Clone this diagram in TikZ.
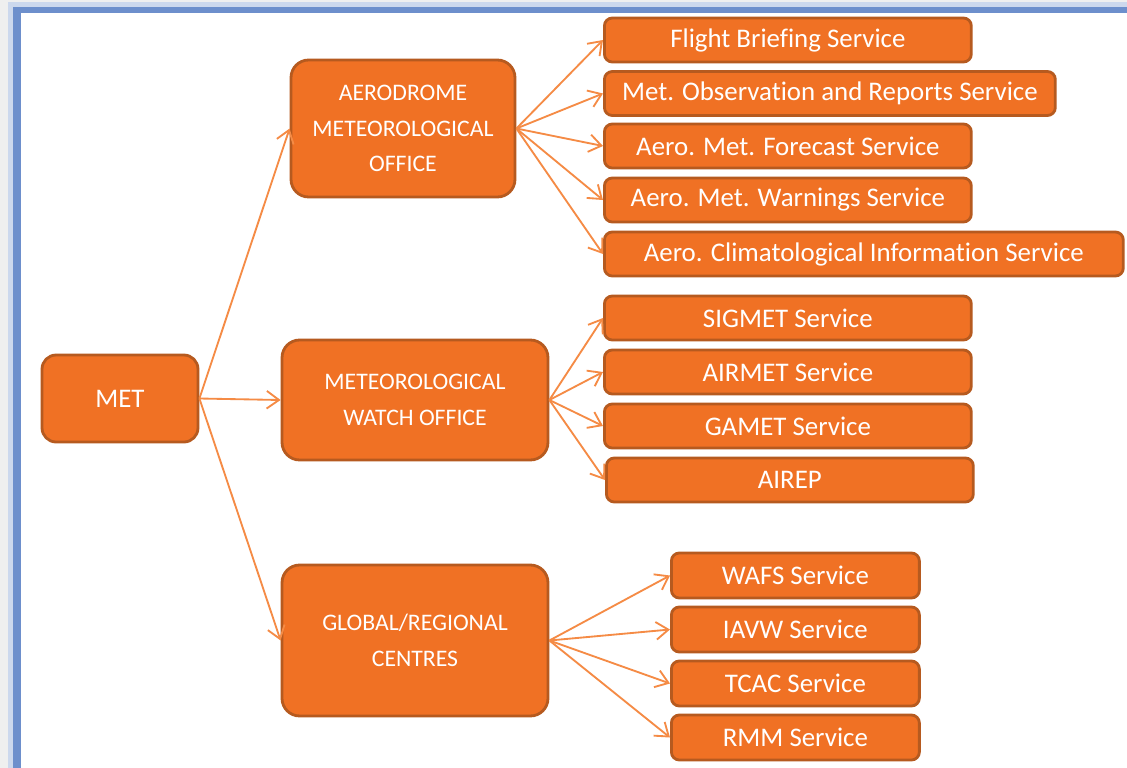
\documentclass[tikz,border=0pt]{standalone}
\usepackage{fontspec}
\setmainfont[Ligatures=NoCommon]{Carlito}
\usepackage{xcolor}
\usetikzlibrary{arrows.meta, positioning, calc}
\definecolor{MetOrange}{HTML}{F07124}
\definecolor{MetEdge}{HTML}{B65A1F}
\definecolor{ArrowOrange}{HTML}{F58B45}
\definecolor{FrameBlue}{HTML}{6D8FCC}
\definecolor{PageGray}{HTML}{EFEFEF}
\tikzset{
    unitbox/.style={rectangle, fill=MetOrange, draw=MetEdge, line width=1.6pt,
                    text=white, inner sep=0pt},
    officebox/.style={unitbox, rounded corners=10pt, align=center,
                      font=\fontsize{13.5}{20.4}\selectfont},
    servicebox/.style={unitbox, rounded corners=4.5pt, anchor=west,
                       minimum height=0.88cm, font=\fontsize{15.3}{18}\selectfont},
    feed/.style={-{Straight Barb[length=7pt,width=10pt]}, ArrowOrange, line width=1.05pt}
}

\begin{document}
\begin{tikzpicture}[x=0.02cm, y=-0.02cm]
    % page and frame
    \path[use as bounding box, clip] (0,0) rectangle (1127,768);
    \fill[PageGray] (0,0) rectangle (1127,768);
    \fill[FrameBlue!35] (8,2) rectangle (1140,780);
    \fill[FrameBlue] (13,7) rectangle (1140,780);
    \fill[white] (21,13) rectangle (1140,780);

    % root and offices
    \node[unitbox, rounded corners=8pt, minimum width=3.12cm, minimum height=1.74cm,
          font=\fontsize{15.3}{18}\selectfont] (met) at (120,398.5) {MET};
    \node[officebox, minimum width=4.48cm, minimum height=2.74cm] (aero) at (403,128.5)
        {AERODROME\\METEOROLOGICAL\\OFFICE};
    \node[officebox, minimum width=5.32cm, minimum height=2.4cm] (mwo) at (415,400)
        {METEOROLOGICAL\\WATCH OFFICE};
    \node[officebox, minimum width=5.32cm, minimum height=3.02cm] (global) at (415,640.5)
        {GLOBAL/REGIONAL\\CENTRES};

    \foreach \o in {aero, mwo, global}
        \draw[feed] (met.east) -- (\o.west);

    % aerodrome services
    \foreach \name/\y/\w/\label in {flight/40/7.34/Flight Briefing Service,
            obs/93.5/9.02/Met. Observation and Reports Service,
            fcst/146/7.34/Aero. Met. Forecast Service,
            warn/200/7.34/Aero. Met. Warnings Service,
            clim/254/10.38/Aero. Climatological Information Service} {
        \node[servicebox, minimum width=\w cm] (\name) at (603,\y) {\label};
        \draw[feed] (aero.east) -- (\name.west);
    }

    % watch office services
    \foreach \name/\x/\y/\label in {sigmet/603/318/SIGMET Service,
            airmet/603/372/AIRMET Service, gamet/603/426/GAMET Service,
            airep/605/480/AIREP} {
        \node[servicebox, minimum width=7.34cm] (\name) at (\x,\y) {\label};
        \draw[feed] (mwo.east) -- (\name.west);
    }

    % global/regional services
    \foreach \name/\y/\label in {wafs/575.5/WAFS Service, iavw/629.5/IAVW Service,
            tcac/683.5/TCAC Service, rmm/737.5/RMM Service} {
        \node[servicebox, minimum width=4.96cm, minimum height=0.9cm] (\name) at (670,\y) {\label};
        \draw[feed] (global.east) -- (\name.west);
    }
\end{tikzpicture}
\end{document}
